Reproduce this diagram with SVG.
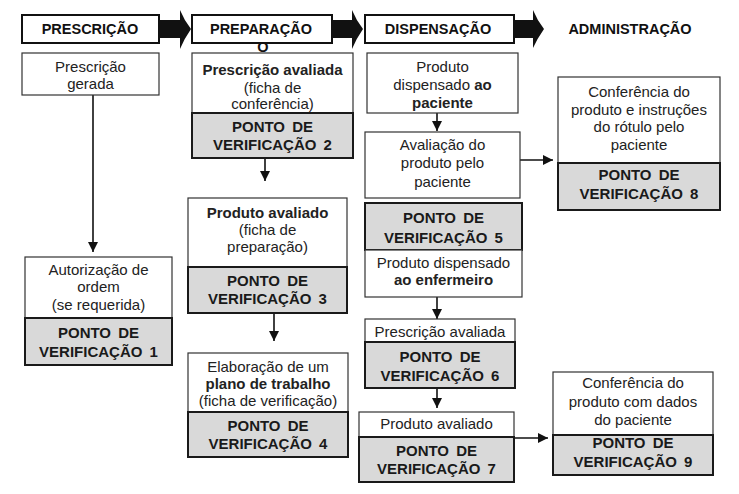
<svg xmlns="http://www.w3.org/2000/svg" width="739" height="494" viewBox="0 0 739 494">
<defs>
<style>
.t{font-family:"Liberation Sans",Arial,sans-serif;font-size:15px;fill:#222;text-anchor:middle}
.b{font-weight:bold}
.g{font-family:"Liberation Sans",Arial,sans-serif;font-size:15px;font-weight:bold;fill:#1a1a1a;text-anchor:middle;word-spacing:3px}
.h{font-family:"Liberation Sans",Arial,sans-serif;font-size:14.5px;font-weight:bold;fill:#111;text-anchor:middle}
.wb{fill:#fff;stroke:#333;stroke-width:1.2}
.gb{fill:#d9d9d9;stroke:#1a1a1a;stroke-width:2}
.hb{fill:#fff;stroke:#111;stroke-width:2}
.ln{stroke:#111;stroke-width:1.6;fill:none}
</style>
<marker id="ah" markerUnits="userSpaceOnUse" markerWidth="10" markerHeight="10" refX="10" refY="5" orient="auto">
<path d="M0,0 L10,5 L0,10 z" fill="#111"/>
</marker>
</defs>
<rect width="739" height="494" fill="#fff"/>

<g id="header">
<rect class="hb" x="22" y="15" width="137" height="28"/>
<text class="h" x="90" y="34">PRESCRIÇÃO</text>
<rect x="159" y="20" width="23" height="18" fill="#111"/>
<path d="M180,10 Q184,20 191,29 Q184,39 180,49 Z" fill="#111"/>
<rect class="hb" x="192" y="15" width="140" height="28"/>
<text class="h" x="261" y="34">PREPARAÇÃO</text>
<text class="h" x="263" y="52">O</text>
<rect x="332" y="20" width="23" height="18" fill="#111"/>
<path d="M352,10 Q356,20 363,29 Q356,39 352,49 Z" fill="#111"/>
<rect class="hb" x="365" y="15" width="149" height="28"/>
<text class="h" x="438" y="34">DISPENSAÇÃO</text>
<rect x="514" y="20" width="21" height="18" fill="#111"/>
<path d="M533,10 Q537,20 544,29 Q537,39 533,48 Z" fill="#111"/>
<text class="h" x="630" y="34">ADMINISTRAÇÃO</text>
</g>

<g id="connectors">
<line class="ln" x1="93" y1="95" x2="93" y2="252" marker-end="url(#ah)"/>
<line class="ln" x1="265" y1="158" x2="265" y2="181" marker-end="url(#ah)"/>
<line class="ln" x1="274" y1="313" x2="274" y2="341" marker-end="url(#ah)"/>
<line class="ln" x1="437" y1="113" x2="437" y2="131" marker-end="url(#ah)"/>
<line class="ln" x1="437" y1="297" x2="437" y2="319" marker-end="url(#ah)"/>
<line class="ln" x1="437" y1="388" x2="437" y2="408" marker-end="url(#ah)"/>
<line class="ln" x1="520" y1="160" x2="553" y2="160" marker-end="url(#ah)"/>
<line class="ln" x1="514" y1="438" x2="548" y2="438" marker-end="url(#ah)"/>
</g>

<g id="n1">
<rect class="wb" x="22" y="53" width="137" height="42"/>
<text class="t" x="90.5" y="72">Prescrição</text>
<text class="t" x="90.5" y="89">gerada</text>
</g>

<g id="n2">
<rect class="wb" x="25" y="257" width="147" height="61"/>
<text class="t" x="98.5" y="275">Autorização de</text>
<text class="t" x="98.5" y="292">ordem</text>
<text class="t" x="98.5" y="310">(se requerida)</text>
<rect class="gb" x="25" y="318" width="147" height="47"/>
<text class="g" x="98.5" y="338">PONTO DE</text>
<text class="g" x="98.5" y="357">VERIFICAÇÃO 1</text>
</g>

<g id="n3">
<rect class="wb" x="192" y="53" width="161" height="60"/>
<text class="t b" x="272.5" y="75">Prescrição avaliada</text>
<text class="t" x="272.5" y="93">(ficha de</text>
<text class="t" x="272.5" y="109">conferência)</text>
<rect class="gb" x="192" y="113" width="161" height="45"/>
<text class="g" x="272.5" y="132">PONTO DE</text>
<text class="g" x="272.5" y="150">VERIFICAÇÃO 2</text>
</g>

<g id="n4">
<rect class="wb" x="188" y="198" width="159" height="69"/>
<text class="t b" x="267.5" y="218">Produto avaliado</text>
<text class="t" x="267.5" y="235">(ficha de</text>
<text class="t" x="267.5" y="252">preparação)</text>
<rect class="gb" x="188" y="267" width="159" height="46"/>
<text class="g" x="267.5" y="286">PONTO DE</text>
<text class="g" x="267.5" y="304">VERIFICAÇÃO 3</text>
</g>

<g id="n5">
<rect class="wb" x="188" y="353" width="160" height="59"/>
<text class="t" x="268" y="372">Elaboração de um</text>
<text class="t b" x="268" y="389">plano de trabalho</text>
<text class="t" x="268" y="406">(ficha de verificação)</text>
<rect class="gb" x="188" y="412" width="160" height="45"/>
<text class="g" x="268" y="431">PONTO DE</text>
<text class="g" x="268" y="449">VERIFICAÇÃO 4</text>
</g>

<g id="n6">
<rect class="wb" x="367" y="53" width="151" height="60"/>
<text class="t" x="442.5" y="72">Produto</text>
<text class="t" x="442.5" y="90">dispensado <tspan class="b">ao</tspan></text>
<text class="t b" x="442.5" y="108">paciente</text>
</g>

<g id="n7">
<rect class="wb" x="365" y="132" width="155" height="66"/>
<text class="t" x="442.5" y="150">Avaliação do</text>
<text class="t" x="442.5" y="168">produto pelo</text>
<text class="t" x="442.5" y="187">paciente</text>
</g>

<g id="n8">
<rect class="gb" x="365" y="203" width="157" height="47"/>
<text class="g" x="443.5" y="223">PONTO DE</text>
<text class="g" x="443.5" y="243">VERIFICAÇÃO 5</text>
</g>

<g id="n9">
<rect class="wb" x="365" y="250" width="157" height="47"/>
<text class="t" x="443.5" y="268">Produto dispensado</text>
<text class="t b" x="443.5" y="285">ao enfermeiro</text>
</g>

<g id="n10">
<rect class="wb" x="365" y="319" width="150" height="23"/>
<text class="t" x="440" y="337">Prescrição avaliada</text>
<rect class="gb" x="365" y="342" width="150" height="46"/>
<text class="g" x="440" y="362">PONTO DE</text>
<text class="g" x="440" y="381">VERIFICAÇÃO 6</text>
</g>

<g id="n11">
<rect class="wb" x="359" y="412" width="155" height="25"/>
<text class="t" x="436.5" y="429">Produto avaliado</text>
<rect class="gb" x="359" y="437" width="155" height="45"/>
<text class="g" x="436.5" y="456">PONTO DE</text>
<text class="g" x="436.5" y="474">VERIFICAÇÃO 7</text>
</g>

<g id="n12">
<rect class="wb" x="558" y="77" width="162" height="86"/>
<text class="t" x="639" y="97">Conferência do</text>
<text class="t" x="639" y="115">produto e instruções</text>
<text class="t" x="639" y="132">do rótulo pelo</text>
<text class="t" x="639" y="150">paciente</text>
<rect class="gb" x="558" y="163" width="162" height="47"/>
<text class="g" x="639" y="180">PONTO DE</text>
<text class="g" x="639" y="199">VERIFICAÇÃO 8</text>
</g>

<g id="n13">
<rect class="wb" x="553" y="372" width="160" height="63"/>
<text class="t" x="633" y="388">Conferência do</text>
<text class="t" x="633" y="407">produto com dados</text>
<text class="t" x="633" y="425">do paciente</text>
<rect class="gb" x="553" y="435" width="160" height="40"/>
<text class="g" x="633" y="448">PONTO DE</text>
<text class="g" x="633" y="467">VERIFICAÇÃO 9</text>
</g>
</svg>
